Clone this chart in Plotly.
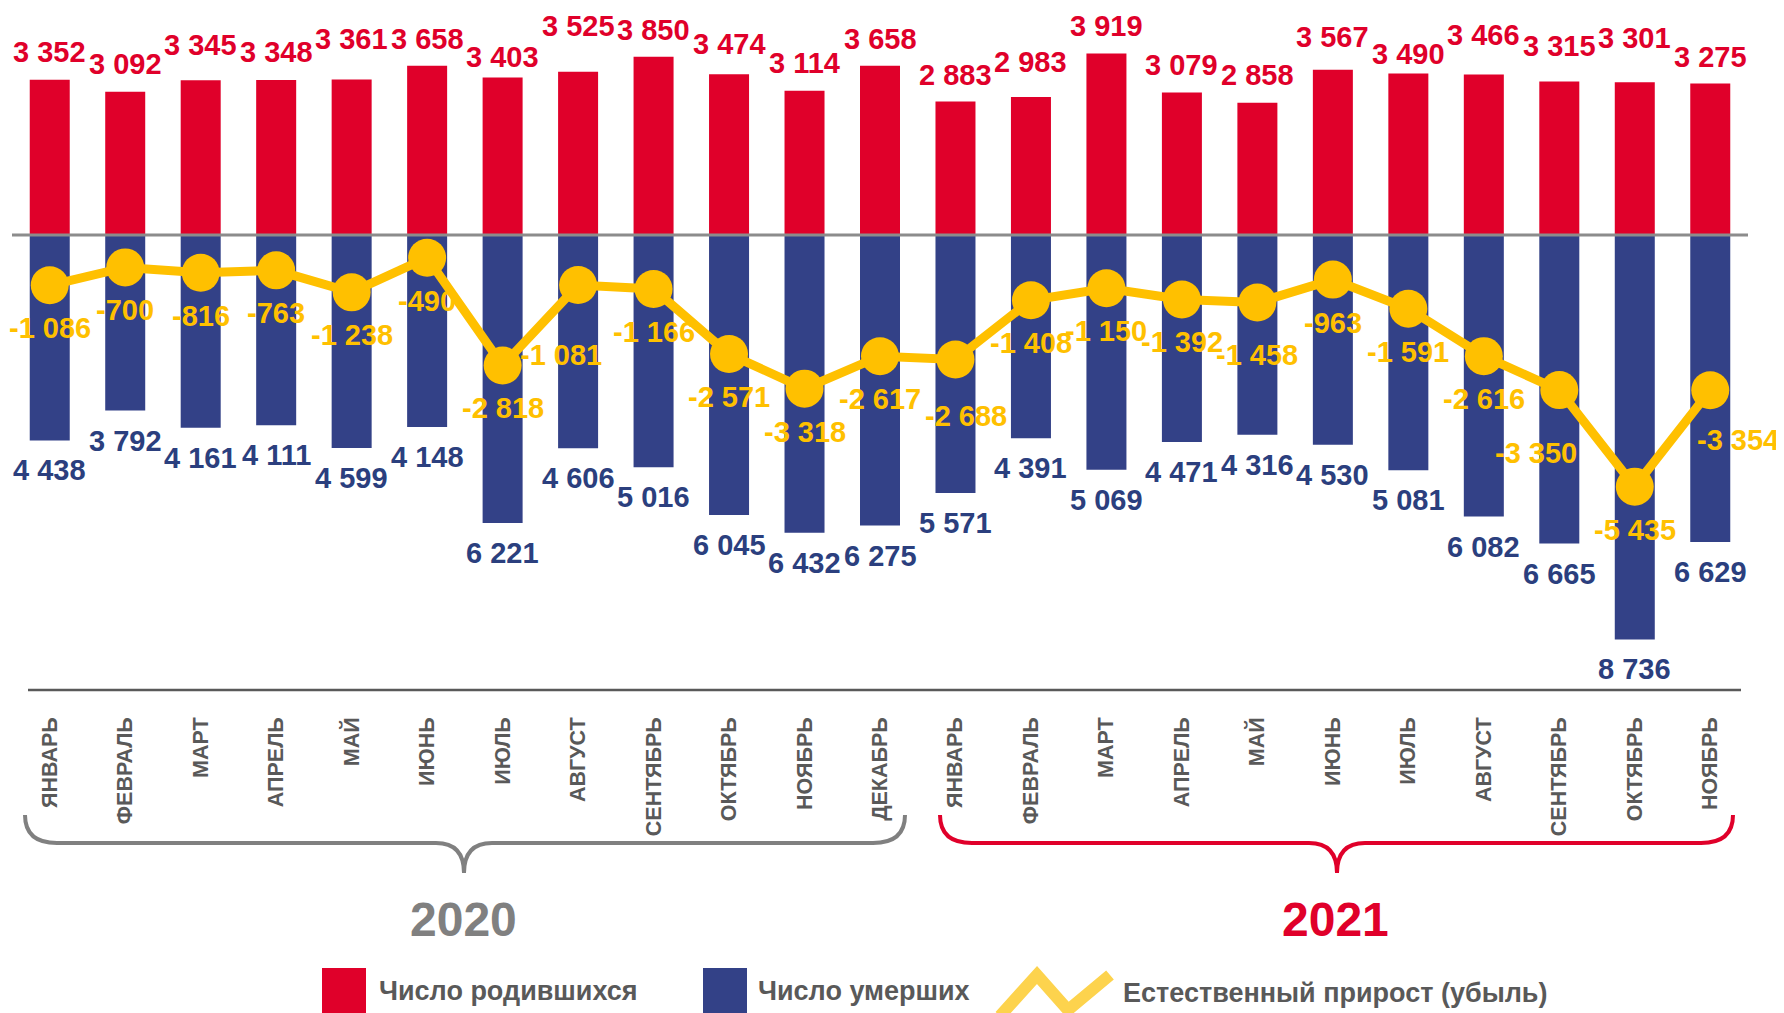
import plotly.graph_objects as go

months = ["ЯНВАРЬ", "ФЕВРАЛЬ", "МАРТ", "АПРЕЛЬ", "МАЙ", "ИЮНЬ", "ИЮЛЬ", "АВГУСТ",
          "СЕНТЯБРЬ", "ОКТЯБРЬ", "НОЯБРЬ", "ДЕКАБРЬ",
          "ЯНВАРЬ", "ФЕВРАЛЬ", "МАРТ", "АПРЕЛЬ", "МАЙ", "ИЮНЬ", "ИЮЛЬ", "АВГУСТ",
          "СЕНТЯБРЬ", "ОКТЯБРЬ", "НОЯБРЬ"]
births = [3352, 3092, 3345, 3348, 3361, 3658, 3403, 3525, 3850, 3474, 3114, 3658,
          2883, 2983, 3919, 3079, 2858, 3567, 3490, 3466, 3315, 3301, 3275]
deaths = [4438, 3792, 4161, 4111, 4599, 4148, 6221, 4606, 5016, 6045, 6432, 6275,
          5571, 4391, 5069, 4471, 4316, 4530, 5081, 6082, 6665, 8736, 6629]
natural = [-1086, -700, -816, -763, -1238, -490, -2818, -1081, -1166, -2571, -3318, -2617,
           -2688, -1408, -1150, -1392, -1458, -963, -1591, -2616, -3350, -5435, -3354]
years = ["2020", "2021"]
legend_names = ["Число родившихся", "Число умерших", "Естественный прирост (убыль)"]

# label placement tweaks (pixels)
births_shift = [28, 28, 35, 28, 40, 27, 20, 46, 27, 30, 28, 27, 27, 35, 28, 27, 28, 33, 19, 40, 36, 44, 26]
nat_dx = [0] * 23
nat_dy = [-43] * 23
nat_dx[7], nat_dy[7] = -17, -70
nat_dx[12], nat_dy[12] = 11, -57
nat_dy[16] = -52
nat_dx[20], nat_dy[20] = -23, -63
nat_dx[22], nat_dy[22] = 28, -50

RED = "#e0002a"
BLUE = "#334187"
BLUE_TXT = "#2b3f7e"
YEL = "#ffc000"
GRAY = "#808080"
FONT = "Liberation Sans, Arial, sans-serif"

OFF = 8  # page body margin offset
W, H = 1784 - OFF, 1013 - OFF
ML, MR, MT, MB = 12 - OFF, 36, 20 - OFF, 323
PW, PH = W - ML - MR, H - MT - MB


def px(x):
    return (x - OFF - ML) / PW


def py(y):
    return (H - MB - (y - OFF)) / PH


def fmt(v):
    s = f"{abs(v):,}".replace(",", " ")
    return ("-" if v < 0 else "") + s


xs = list(range(len(months)))

fig = go.Figure()
fig.add_trace(go.Bar(x=xs, y=births, width=0.53, marker=dict(color=RED, line=dict(width=0)),
                     name=legend_names[0], showlegend=False))
fig.add_trace(go.Bar(x=xs, y=[-d for d in deaths], width=0.53, marker=dict(color=BLUE, line=dict(width=0)),
                     name=legend_names[1], showlegend=False))
fig.add_trace(go.Scatter(x=xs, y=natural, mode="lines+markers",
                         line=dict(color=YEL, width=9), marker=dict(color=YEL, size=38),
                         name=legend_names[2], showlegend=False))

ann = []
for i in xs:
    ann.append(dict(x=i, y=births[i], xref="x", yref="y", text=fmt(births[i]), showarrow=False,
                    yshift=births_shift[i], font=dict(family=FONT, size=29, color=RED, weight="bold")))
    ann.append(dict(x=i, y=-deaths[i], xref="x", yref="y", text=fmt(deaths[i]), showarrow=False,
                    yshift=-30, font=dict(family=FONT, size=29, color=BLUE_TXT, weight="bold")))
    ann.append(dict(x=i, y=natural[i], xref="x", yref="y", text=fmt(natural[i]), showarrow=False,
                    xshift=nat_dx[i], yshift=nat_dy[i],
                    font=dict(family=FONT, size=29, color=YEL, weight="bold")))

# year labels
ann.append(dict(x=px(464), y=py(920), xref="paper", yref="paper", text=years[0], showarrow=False,
                xanchor="center", yanchor="middle",
                font=dict(family=FONT, size=48, color=GRAY, weight="bold")))
ann.append(dict(x=px(1335), y=py(920), xref="paper", yref="paper", text=years[1], showarrow=False,
                xanchor="center", yanchor="middle",
                font=dict(family=FONT, size=48, color=RED, weight="bold")))

# legend texts
for xpos, ypos, t in [(377, 991, legend_names[0]), (756, 991, legend_names[1]), (1121, 993, legend_names[2])]:
    ann.append(dict(x=px(xpos), y=py(ypos), xref="paper", yref="paper", text=t, showarrow=False,
                    xanchor="left", yanchor="middle",
                    font=dict(family=FONT, size=27, color="#595959", weight="bold")))

shapes = []
# zero line
shapes.append(dict(type="line", xref="paper", yref="y", x0=0, x1=1, y0=0, y1=0,
                   line=dict(color="#8c8c8c", width=3), layer="above"))
# bottom axis line
shapes.append(dict(type="line", xref="paper", yref="paper", x0=px(28), x1=px(1741), y0=0, y1=0,
                   line=dict(color="#595959", width=2.5)))


def brace(x0, x1, xc, color):
    yt, yh, ytip = 815, 843, 873
    pts = (f"M {px(x0)},{py(yt)} Q {px(x0)},{py(yh)} {px(x0 + 32)},{py(yh)} "
           f"L {px(xc - 28)},{py(yh)} Q {px(xc)},{py(yh)} {px(xc)},{py(ytip)} "
           f"Q {px(xc)},{py(yh)} {px(xc + 28)},{py(yh)} "
           f"L {px(x1 - 32)},{py(yh)} Q {px(x1)},{py(yh)} {px(x1)},{py(yt)}")
    return dict(type="path", xref="paper", yref="paper", path=pts, line=dict(color=color, width=4))


shapes.append(brace(25, 905, 464, GRAY))
shapes.append(brace(940, 1733, 1337, RED))

# legend symbols
shapes.append(dict(type="rect", xref="paper", yref="paper", x0=px(322), x1=px(366), y0=py(968), y1=py(1013),
                   fillcolor=RED, line=dict(width=0)))
shapes.append(dict(type="rect", xref="paper", yref="paper", x0=px(703), x1=px(747), y0=py(968), y1=py(1013),
                   fillcolor=BLUE, line=dict(width=0)))
zz = f"M {px(1000)},{py(1016)} L {px(1037)},{py(975)} L {px(1068)},{py(1010)} L {px(1110)},{py(975)}"
shapes.append(dict(type="path", xref="paper", yref="paper", path=zz, line=dict(color="#fdd34d", width=12)))

fig.update_layout(
    width=W, height=H,
    margin=dict(l=ML, r=MR, t=MT, b=MB),
    paper_bgcolor="white", plot_bgcolor="white",
    barmode="overlay",
    annotations=ann, shapes=shapes,
    xaxis=dict(range=[-0.5, 22.5], tickmode="array", tickvals=xs, ticktext=months, tickangle=-90,
               showgrid=False, zeroline=False, showline=False, ticks="",
               ticklabelstandoff=22,
               tickfont=dict(family=FONT, size=21.5, color="#595959", weight="bold")),
    yaxis=dict(range=[-9827, 4644], showgrid=False, zeroline=False, showline=False,
               showticklabels=False, ticks=""),
)

fig.write_html("out.html")
